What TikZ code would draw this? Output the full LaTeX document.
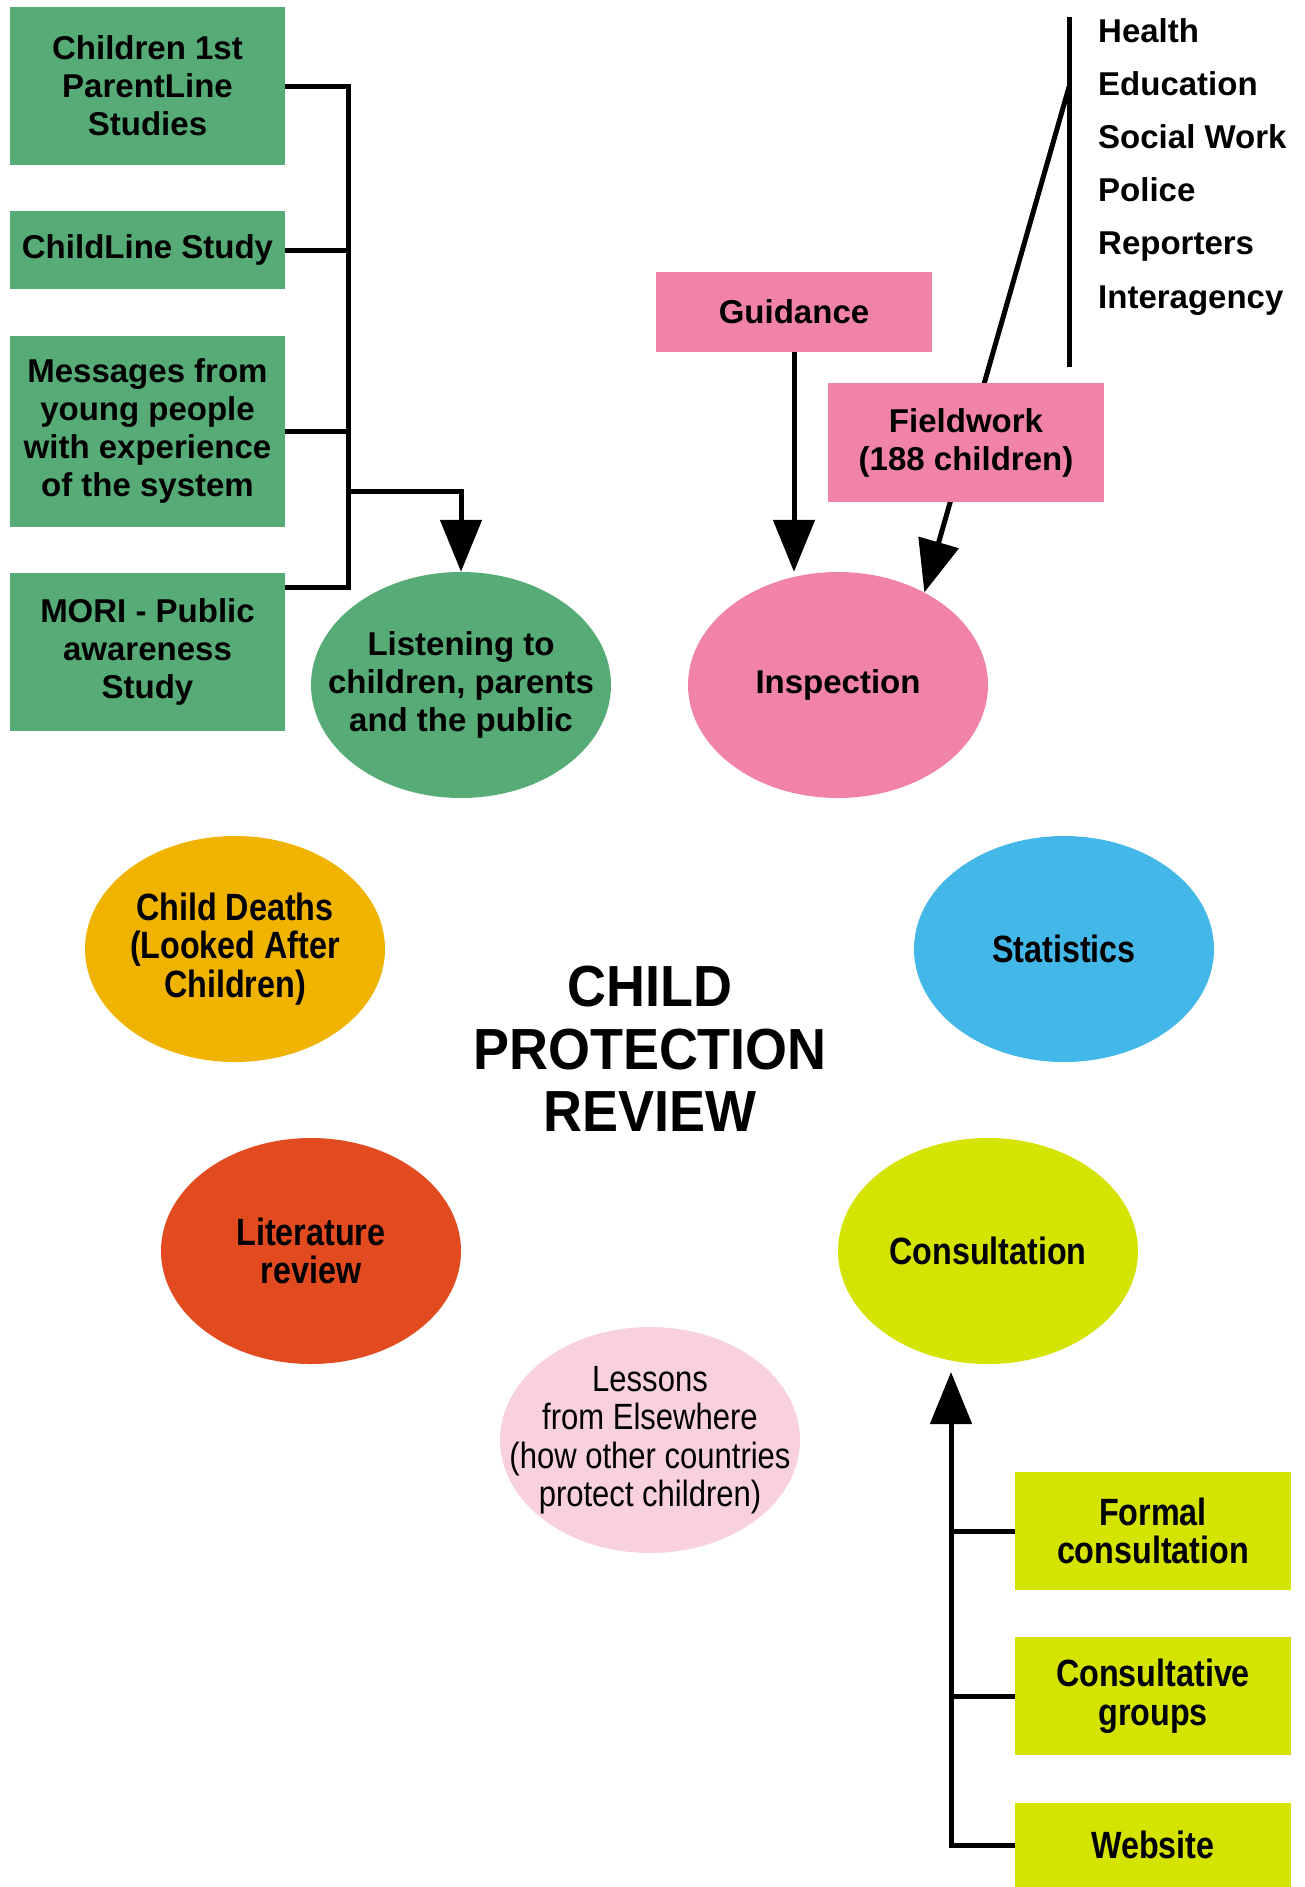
\documentclass[tikz,border=0pt]{standalone}
\usepackage{fontspec}
\setmainfont{Liberation Sans}
\newfontfamily\narrowfont[FakeStretch=0.93]{Liberation Sans}
\newfontfamily\condfont[FakeStretch=0.85]{Liberation Sans}
\usetikzlibrary{positioning,shapes.geometric,arrows.meta}
\definecolor{studygreen}{HTML}{56AB76}
\definecolor{inspectpink}{HTML}{F083A6}
\definecolor{deathorange}{HTML}{F0B400}
\definecolor{statsblue}{HTML}{42B7E8}
\definecolor{litred}{HTML}{E24A20}
\definecolor{consultlime}{HTML}{D4E300}
\definecolor{lessonpink}{HTML}{F8D0DE}
\newcommand{\boxfont}{\fontsize{33}{38}\selectfont\bfseries}
\newcommand{\bubblefont}{\condfont\bfseries\fontsize{38}{38.5}\selectfont}
\newcommand{\lessonfont}{\condfont\fontsize{36.5}{38.5}\selectfont}
\newcommand{\titlefont}{\narrowfont\bfseries\fontsize{58}{62.6}\selectfont}
\tikzset{
    >={Triangle[length=52pt,width=41pt]},
    studybox/.style={
      rectangle,
      fill=studygreen,
      minimum width=275pt,
      inner sep=0pt,
      align=center,
      font=\boxfont},
    inspectbox/.style={
      rectangle,
      fill=inspectpink,
      minimum width=276pt,
      inner sep=0pt,
      align=center,
      font=\boxfont},
    consultbox/.style={
      rectangle,
      fill=consultlime,
      minimum width=276pt,
      inner sep=0pt,
      align=center,
      font=\bubblefont},
    bubble/.style={
      ellipse,
      minimum width=300pt,
      minimum height=226pt,
      inner xsep=-70pt,
      inner ysep=-30pt,
      align=center,
      font=\bubblefont},
    agency/.style={anchor=base west, inner sep=0pt, font=\boxfont},
    link/.style={draw, line width=5pt},
}

\begin{document}
\begin{tikzpicture}[x=1pt, y=-1pt, node distance=46pt]
      \useasboundingbox (0,0) rectangle (1305,1887);
      % listening
      \node[studybox, minimum height=158pt] (children1st) at (147.5,86) {Children 1st\\ParentLine\\Studies};
      \node[studybox, minimum height=78pt, below=of children1st] (childline) {ChildLine Study};
      \node[studybox, minimum height=191pt, below=of childline] (messages) {Messages from\\young people\\with experience\\of the system};
      \node[studybox, minimum height=158pt, below=of messages] (mori) {MORI - Public\\awareness\\Study};
      \node[bubble, fill=studygreen, font=\boxfont] (listening) at (461,685) {Listening to\\children, parents\\and the public};
      \coordinate (greenbar) at (348,587);
      \coordinate (greenfork) at (348,491);
      \draw[link] (children1st.east) -| (greenbar) -- (mori.north east |- greenbar);
      \draw[link] (childline.east) -- (childline.east -| greenbar);
      \draw[link] (messages.east) -- (messages.east -| greenbar);
      \draw[link, ->] (greenfork) -| (listening.north);
      % inspection
      \node[inspectbox, minimum height=80pt] (guidance) at (794,312) {Guidance};
      \node[bubble, fill=inspectpink, font=\boxfont] (inspection) at (838,685) {Inspection};
      \draw[link, ->] (guidance.south) -- (guidance.south |- inspection.north);
      \coordinate (agencytop) at (1069,17);
      \coordinate (agencyjoin) at (1069,87);
      \coordinate (agencyend) at (1069,367);
      \draw[link] (agencytop) -- (agencyend);
      \draw[link, ->] (agencyjoin) -- (inspection.47);
      \node[inspectbox, minimum height=119pt] (fieldwork) at (966,442.5) {Fieldwork\\(188 children)};
      \node[agency] (health) at (1098,42) {Health};
      \node[agency] (education) at (1098,95.2) {Education};
      \node[agency] (socialwork) at (1098,148.4) {Social Work};
      \node[agency] (police) at (1098,201.6) {Police};
      \node[agency] (reporters) at (1098,254.8) {Reporters};
      \node[agency] (interagency) at (1098,308) {Interagency};
      % centre
      \node[align=center, font=\titlefont] (title) at (650,1049) {CHILD\\PROTECTION\\REVIEW};
      \node[bubble, fill=deathorange] (childdeaths) at (235,949) {Child Deaths\\(Looked After\\Children)};
      \node[bubble, fill=statsblue] (statistics) at (1064,949) {Statistics};
      \node[bubble, fill=litred] (literature) at (311,1251) {Literature\\review};
      \node[bubble, fill=consultlime] (consultation) at (988,1251) {Consultation};
      \node[bubble, fill=lessonpink, font=\lessonfont] (lessons) at (650,1440) {Lessons\\from Elsewhere\\(how other countries\\protect children)};
      % consultation
      \node[consultbox, minimum height=118pt] (formal) at (1153,1531) {Formal\\consultation};
      \node[consultbox, minimum height=118pt, below=47pt of formal] (consultative) {Consultative\\groups};
      \node[consultbox, minimum height=85pt, below=47pt of consultative] (website) {Website};
      \coordinate (consulttip) at (951,1372);
      \draw[link, ->] (website.west) -| (consulttip);
      \draw[link] (formal.west) -- (formal.west -| consulttip);
      \draw[link] (consultative.west) -- (consultative.west -| consulttip);
\end{tikzpicture}
\end{document}
